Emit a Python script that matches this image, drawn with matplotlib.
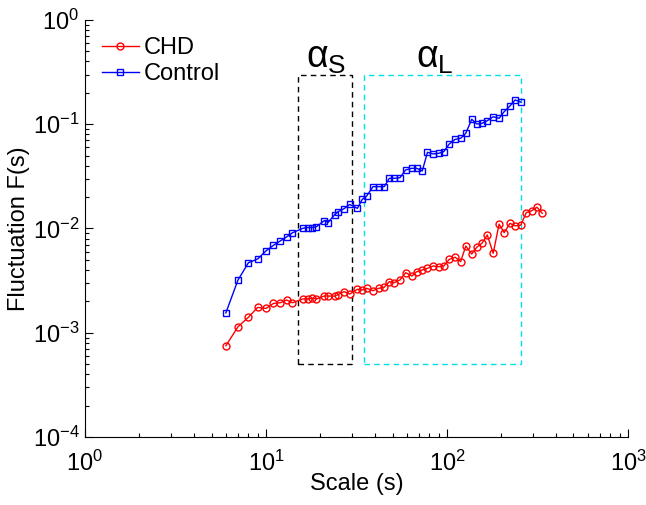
import numpy as np
import matplotlib
matplotlib.use('Agg')
import matplotlib.pyplot as plt
from matplotlib.patches import Rectangle
from matplotlib.ticker import LogLocator, NullFormatter

plt.rcParams['font.family'] = ['Liberation Sans', 'DejaVu Sans']
plt.rcParams['mathtext.fontset'] = 'custom'
plt.rcParams['mathtext.rm'] = 'Liberation Sans'
plt.rcParams['mathtext.it'] = 'Liberation Sans'

# box sizes (s)
scales = [6, 7, 8, 9, 10, 11, 12, 13, 14, 16, 17, 18, 19, 21, 22, 24, 25, 27, 29,
          32, 34, 36, 39, 42, 45, 48, 51, 55, 59, 64, 68, 73, 78, 84, 90, 96, 103,
          111, 119, 127, 137, 146, 156, 167, 180, 194, 207, 223, 238, 256,
          274, 294, 314, 336]

chd = [7.5e-4, 1.14e-3, 1.41e-3, 1.75e-3, 1.71e-3, 1.91e-3, 1.94e-3, 2.06e-3, 1.94e-3,
       2.11e-3, 2.11e-3, 2.14e-3, 2.11e-3, 2.25e-3, 2.25e-3, 2.24e-3, 2.32e-3, 2.48e-3,
       2.35e-3, 2.61e-3, 2.57e-3, 2.67e-3, 2.53e-3, 2.67e-3, 2.73e-3, 3.09e-3, 3.02e-3,
       3.21e-3, 3.77e-3, 3.50e-3, 3.85e-3, 4.00e-3, 4.15e-3, 4.37e-3, 4.30e-3, 4.37e-3,
       5.06e-3, 5.30e-3, 4.81e-3, 6.79e-3, 5.69e-3, 6.60e-3, 7.21e-3, 8.67e-3, 5.78e-3,
       1.10e-2, 9.12e-3, 1.12e-2, 1.06e-2, 1.08e-2, 1.42e-2, 1.48e-2, 1.60e-2, 1.40e-2]

control = [1.55e-3, 3.2e-3, 4.7e-3, 5.1e-3, 6.1e-3, 6.9e-3, 7.6e-3, 8.3e-3, 9.1e-3,
           1.005e-2, 1.02e-2, 1.02e-2, 1.04e-2, 1.19e-2, 1.14e-2, 1.36e-2, 1.45e-2, 1.55e-2,
           1.70e-2, 1.56e-2, 1.90e-2, 2.05e-2, 2.52e-2, 2.52e-2, 2.52e-2, 3.03e-2, 3.03e-2,
           3.07e-2, 3.64e-2, 3.78e-2, 3.78e-2, 3.56e-2, 5.38e-2, 5.19e-2, 5.26e-2, 5.46e-2,
           6.47e-2, 7.17e-2, 7.33e-2, 8.19e-2, 1.116e-1, 1.005e-1, 1.02e-1, 1.08e-1, 1.18e-1,
           1.14e-1, 1.32e-1, 1.50e-1, 1.71e-1, 1.63e-1]

# fitting ranges (scale limits, F limits)
short_range = (15, 30)
long_range = (35, 256)
box_f = (5e-4, 0.3)

fig = plt.figure(figsize=(6.46, 5.05), dpi=100)
ax = fig.add_axes([0.1316, 0.1347, 0.8405, 0.8257])

ax.plot(scales, chd, 'o-', color='red', markerfacecolor='none', markersize=5,
        markeredgewidth=1.0, linewidth=1.0, label='CHD')
ax.plot(scales[:len(control)], control, 's-', color='blue', markerfacecolor='none',
        markersize=5, markeredgewidth=1.0, linewidth=1.0, label='Control')

ax.add_patch(Rectangle((short_range[0], box_f[0]), short_range[1] - short_range[0],
                       box_f[1] - box_f[0], fill=False, edgecolor='black',
                       linestyle=(0, (4, 3)), linewidth=1.0))
ax.add_patch(Rectangle((long_range[0], box_f[0]), long_range[1] - long_range[0],
                       box_f[1] - box_f[0], fill=False, edgecolor='#00e0e8',
                       linestyle=(0, (4, 3)), linewidth=1.0))

ax.text(21.5, 0.29, r'$\alpha_\mathrm{S}$', fontsize=27, ha='center', va='bottom')
ax.text(86, 0.29, r'$\alpha_\mathrm{L}$', fontsize=27, ha='center', va='bottom')

ax.set_xscale('log')
ax.set_yscale('log')
ax.set_xlim(1, 1000)
ax.set_ylim(1e-4, 1)

ax.xaxis.set_major_locator(LogLocator(base=10, numticks=10))
ax.yaxis.set_major_locator(LogLocator(base=10, numticks=10))
ax.xaxis.set_minor_locator(LogLocator(base=10, subs=np.arange(2, 10), numticks=10))
ax.yaxis.set_minor_locator(LogLocator(base=10, subs=np.arange(2, 10), numticks=10))
ax.xaxis.set_minor_formatter(NullFormatter())
ax.yaxis.set_minor_formatter(NullFormatter())

ax.spines['top'].set_visible(False)
ax.spines['right'].set_visible(False)
ax.tick_params(which='both', direction='in', labelsize=17, width=0.8)
ax.tick_params(which='major', length=6)
ax.tick_params(which='minor', length=3)
ax.tick_params(axis='x', pad=10)
ax.tick_params(axis='y', pad=4)

ax.set_xlabel('Scale (s)', fontsize=17, labelpad=-2)
ax.set_ylabel('Fluctuation F(s)', fontsize=17, labelpad=2)

ax.legend(loc='upper left', frameon=False, fontsize=17, handlelength=1.6,
          handletextpad=0.2, borderaxespad=0.3, labelspacing=0.15,
          bbox_to_anchor=(0.0, 0.998))

fig.savefig('out.png', dpi=100)
